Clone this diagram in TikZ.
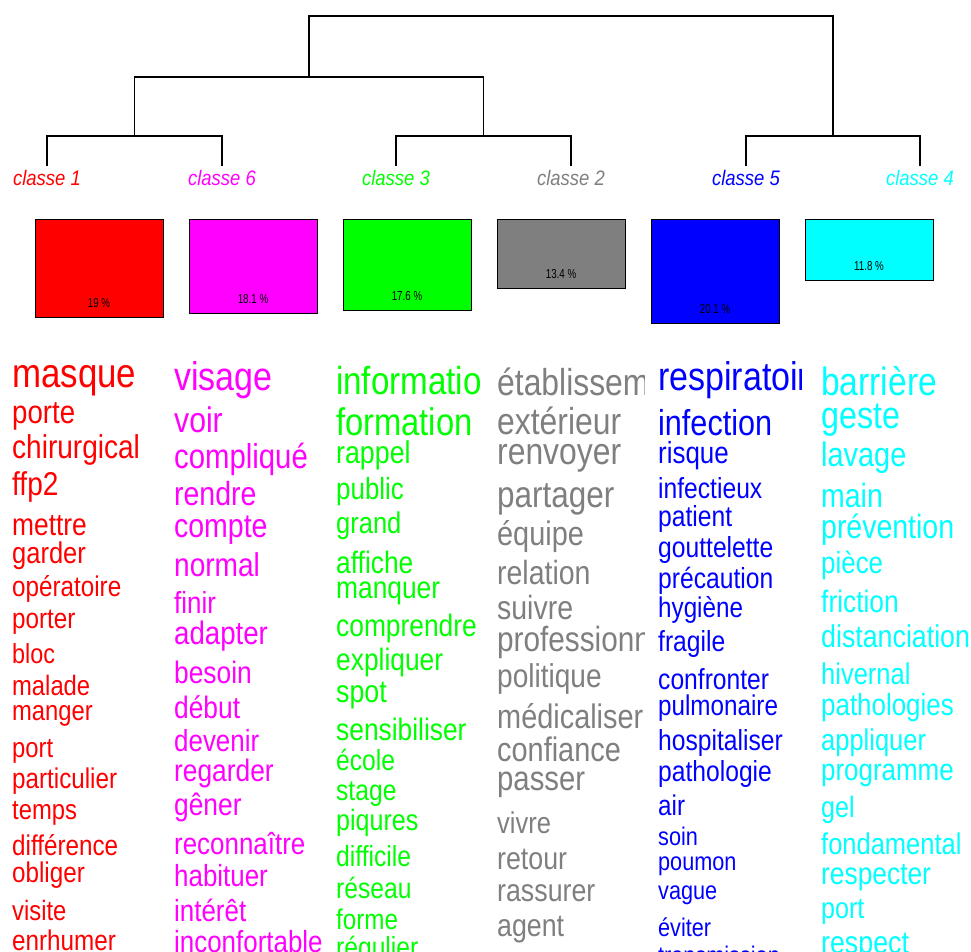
\documentclass[tikz,border=0pt]{standalone}
\usepackage{fontspec}
\setmainfont{Liberation Sans}
\definecolor{cl1}{RGB}{255,0,0}
\definecolor{cl6}{RGB}{255,0,255}
\definecolor{cl3}{RGB}{0,255,0}
\definecolor{cl2}{RGB}{127,127,127}
\definecolor{cl5}{RGB}{0,0,255}
\definecolor{cl4}{RGB}{0,255,255}
\begin{document}
\begin{tikzpicture}[x=1pt,y=1pt,
   tree/.style={line width=1.1pt},
   leaf/.style={anchor=base,inner sep=4pt,xscale=0.88,font=\fontsize{21}{21}\selectfont\itshape},
   bar/.style={draw,line width=1pt,anchor=north,minimum width=128pt,inner sep=0pt},
   pct/.style={inner sep=0pt,xscale=0.75,font=\fontsize{13}{13}\selectfont},
   word/.style={anchor=base west,inner sep=0pt,xscale=0.85}]
   \useasboundingbox (0,0) rectangle (971,-951);
   \clip (0,0) rectangle (971,-951);
   % classes
   \node[leaf,text=cl1] (c1) at (47,-185) {classe 1};
   \node[leaf,text=cl6] (c6) at (222,-185) {classe 6};
   \node[leaf,text=cl3] (c3) at (396,-185) {classe 3};
   \node[leaf,text=cl2] (c2) at (571,-185) {classe 2};
   \node[leaf,text=cl5] (c5) at (746,-185) {classe 5};
   \node[leaf,text=cl4] (c4) at (920,-185) {classe 4};
   % tree
   \coordinate (j16) at (134.5,-136);
   \coordinate (j32) at (483.5,-136);
   \coordinate (j54) at (833,-136);
   \coordinate (j1632) at (309,-77);
   \coordinate (root) at (571,-16);
   \draw[tree] (c1) |- (j16) -| (c6);
   \draw[tree] (c3) |- (j32) -| (c2);
   \draw[tree] (c5) |- (j54) -| (c4);
   \draw[tree] (j16) |- (j1632) -| (j32);
   \draw[tree] (j1632) |- (root) -| (j54);
   % sizes
   \node[bar,fill=cl1,minimum height=98.2pt] (b1) at (99,-219) {};
   \node[bar,fill=cl6,minimum height=93.6pt] (b6) at (253,-219) {};
   \node[bar,fill=cl3,minimum height=91pt] (b3) at (407,-219) {};
   \node[bar,fill=cl2,minimum height=69.3pt] (b2) at (561,-219) {};
   \node[bar,fill=cl5,minimum height=103.9pt] (b5) at (715,-219) {};
   \node[bar,fill=cl4,minimum height=61pt] (b4) at (869,-219) {};
   \node[pct] (p1) at (99,-303) {19 \%};
   \node[pct] (p6) at (253,-298.6) {18.1 \%};
   \node[pct] (p3) at (407,-296) {17.6 \%};
   \node[pct] (p2) at (561,-274.3) {13.4 \%};
   \node[pct] (p5) at (715,-308.9) {20.1 \%};
   \node[pct] (p4) at (869,-266) {11.8 \%};
   % words
   \begin{scope}
      \clip (10,-340) rectangle (170,-951);
      \foreach \w/\yy/\fs [count=\i] in {masque/387/41, porte/423/32.5, chirurgical/458/33,
         ffp2/495/33, mettre/535/31, garder/563/30, opératoire/596/28.5, porter/628/28.5,
         bloc/663/27.5, malade/695/28, manger/720/28, port/757/28, particulier/788/28.5,
         temps/819/28, différence/855/28.5, obliger/882/28.5, visite/920/28, enrhumer/950/28.5}
         \node[word,text=cl1,font=\fontsize{\fs}{\fs}\selectfont] (r\i) at (12,-\yy) {\w};
   \end{scope}
   \begin{scope}
      \clip (172,-340) rectangle (330,-951);
      \foreach \w/\yy/\fs [count=\i] in {visage/390/40, voir/432/35.5, compliqué/468/34.5,
         rendre/505/33.5, compte/537/33.5, normal/576/33, finir/613/30.5, adapter/644/32.5,
         besoin/683/31, début/718/31, devenir/751/30.5, regarder/781/31, gêner/815/31,
         reconnaître/854/30.5, habituer/886/30.5, intérêt/921/30.5, inconfortable/952/30.5}
         \node[word,text=cl6,font=\fontsize{\fs}{\fs}\selectfont] (m\i) at (174,-\yy) {\w};
   \end{scope}
   \begin{scope}
      \clip (334,-340) rectangle (481,-951);
      \foreach \w/\yy/\fs [count=\i] in {information/394/39, formation/435/38.5, rappel/463/31.5,
         public/499/30.5, grand/533/30, affiche/573/31, manquer/598/31, comprendre/636/31,
         expliquer/670/31, spot/702/31.5, sensibiliser/740/31, école/770/29, stage/800/29,
         piqures/830/29.5, difficile/866/29, réseau/898/29, forme/929/28.5, régulier/957/29}
         \node[word,text=cl3,font=\fontsize{\fs}{\fs}\selectfont] (g\i) at (336,-\yy) {\w};
   \end{scope}
   \begin{scope}
      \clip (495,-340) rectangle (644,-951);
      \foreach \w/\yy/\fs [count=\i] in {établissement/395/37.5, extérieur/434/37.5, renvoyer/464/37.5,
         partager/507/37, équipe/545/34, relation/584/33.5, suivre/619/33.5, professionnel/651/35,
         politique/687/33, médicaliser/728/34, confiance/761/34, passer/790/34.5, vivre/833/30,
         retour/869/31.5, rassurer/901/31.5, agent/936/31.5}
         \node[word,text=cl2,font=\fontsize{\fs}{\fs}\selectfont] (a\i) at (497,-\yy) {\w};
   \end{scope}
   \begin{scope}
      \clip (656,-340) rectangle (801,-951);
      \foreach \w/\yy/\fs [count=\i] in {respiratoire/390/40, infection/435/36, risque/463/30.5,
         infectieux/498/29, patient/526/29, gouttelette/557/29, précaution/588/29, hygiène/617/28.5,
         fragile/651/29, confronter/689/29, pulmonaire/715/28.5, hospitaliser/750/29,
         pathologie/781/29, air/815/28.5, soin/845/25.5, poumon/870/25.5, vague/899/25.5,
         éviter/936/25.5, transmission/964/25.5}
         \node[word,text=cl5,font=\fontsize{\fs}{\fs}\selectfont] (u\i) at (658,-\yy) {\w};
   \end{scope}
   \begin{scope}
      \clip (819,-340) rectangle (971,-951);
      \foreach \w/\yy/\fs [count=\i] in {barrière/395/39.5, geste/428/38, lavage/466/34,
         main/507/33.5, prévention/538/33.5, pièce/573/30.5, friction/612/31,
         distanciation/647/31.5, hivernal/684/30, pathologies/715/30.5, appliquer/750/30,
         programme/780/30.5, gel/817/29.5, fondamental/854/30, respecter/884/31, port/918/29.5,
         respect/953/31.5}
         \node[word,text=cl4,font=\fontsize{\fs}{\fs}\selectfont] (k\i) at (821,-\yy) {\w};
   \end{scope}
\end{tikzpicture}
\end{document}
